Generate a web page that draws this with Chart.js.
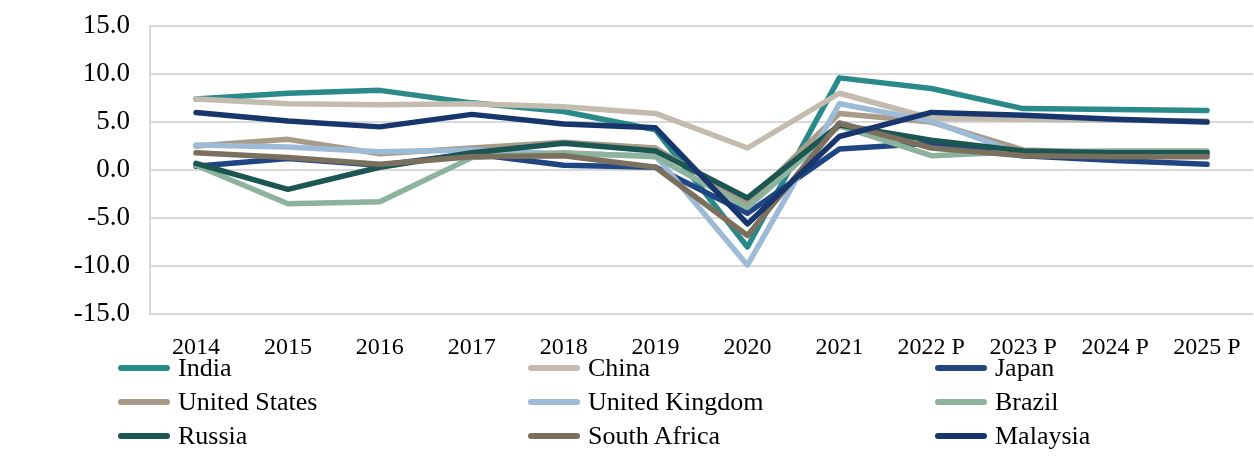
<!DOCTYPE html>
<html>
<head>
<meta charset="utf-8">
<script src="https://cdn.jsdelivr.net/npm/chart.js"></script>
<style>
  html, body { margin: 0; padding: 0; background: #fff; }
  #wrap { position: relative; width: 1254px; height: 459px; }
  #legend { position: absolute; left: 0; top: 351px; width: 1254px; font-family: "Liberation Serif", serif; font-size: 26px; color: #000; }
  .item { position: absolute; height: 34px; line-height: 34px; white-space: nowrap; }
  .swatch { position: absolute; left: 0; top: 14px; width: 52px; height: 6px; border-radius: 3px; }
  .item span { position: absolute; left: 60px; top: 0; }
</style>
</head>
<body>
<div id="wrap">
  <canvas id="myChart" width="1254" height="459"></canvas>
  <div id="legend"></div>
</div>
<script>
const years = ['2014', '2015', '2016', '2017', '2018', '2019', '2020', '2021', '2022 P', '2023 P', '2024 P', '2025 P'];

const countries = ['India', 'China', 'Japan', 'United States', 'United Kingdom', 'Brazil', 'Russia', 'South Africa', 'Malaysia'];
const colors = ['#2a8a8a', '#c3bbae', '#1f4584', '#a89b88', '#9dbbd6', '#8db39e', '#1b5652', '#7b705e', '#17366e'];

const india = [7.4, 8.0, 8.3, 7.0, 6.1, 4.2, -8.0, 9.6, 8.5, 6.4, 6.3, 6.2];
const china = [7.4, 6.9, 6.8, 6.9, 6.6, 5.9, 2.3, 8.0, 5.4, 5.3, 5.2, 5.1];
const japan = [0.4, 1.2, 0.5, 1.7, 0.5, 0.3, -4.5, 2.2, 2.8, 1.5, 1.0, 0.6];
const unitedStates = [2.5, 3.2, 1.7, 2.3, 2.9, 2.3, -3.4, 5.9, 5.0, 2.1, 1.8, 1.8];
const unitedKingdom = [2.6, 2.4, 1.9, 2.1, 1.7, 1.5, -9.9, 6.9, 5.1, 1.6, 1.5, 1.5];
const brazil = [0.5, -3.5, -3.3, 1.3, 1.8, 1.4, -3.9, 4.6, 1.5, 1.9, 2.0, 2.0];
const russia = [0.7, -2.0, 0.3, 1.8, 2.8, 2.0, -2.9, 4.7, 3.1, 2.0, 1.8, 1.8];
const southAfrica = [1.8, 1.3, 0.6, 1.4, 1.5, 0.3, -6.8, 4.9, 2.3, 1.5, 1.4, 1.4];
const malaysia = [6.0, 5.1, 4.5, 5.8, 4.8, 4.4, -5.6, 3.5, 6.0, 5.7, 5.3, 5.0];

const seriesValues = [india, china, japan, unitedStates, unitedKingdom, brazil, russia, southAfrica, malaysia];

const yTicks = [-15, -10, -5, 0, 5, 10, 15];

const xFont = { family: 'Liberation Serif', size: 24 };
const yFont = { family: 'Liberation Serif', size: 27 };

const datasets = countries.map((name, i) => ({
    label: name,
    data: seriesValues[i],
    borderColor: colors[i],
    backgroundColor: colors[i],
    borderWidth: 5.5,
    pointRadius: 0,
    tension: 0,
    borderCapStyle: 'round',
    borderJoinStyle: 'round',
    order: countries.length - i,
}));

new Chart(document.getElementById('myChart'), {
    type: 'line',
    data: { labels: years, datasets: datasets },
    options: {
        responsive: false,
        animation: false,
        layout: { padding: { left: 0, right: 1, top: 26, bottom: 78 } },
        plugins: {
            legend: { display: false },
            tooltip: { enabled: false },
        },
        scales: {
            x: {
                offset: true,
                grid: { display: false, drawTicks: false },
                border: { display: false },
                ticks: { color: '#000', font: xFont, padding: 19, maxRotation: 0, autoSkip: false },
                afterFit: (scale) => { scale.paddingLeft = 0; scale.paddingRight = 0; },
            },
            y: {
                min: yTicks[0],
                max: yTicks[yTicks.length - 1],
                afterFit: (scale) => { scale.width = 150; scale.paddingTop = 0; scale.paddingBottom = 0; },
                afterBuildTicks: (scale) => { scale.ticks = yTicks.map(v => ({ value: v })); },
                grid: { color: '#d9d9d9', lineWidth: 2, drawTicks: false },
                border: { display: true, color: '#d9d9d9', width: 2 },
                ticks: { color: '#000', font: yFont, padding: 20, callback: (v) => Number(v).toFixed(1) },
            },
        },
    },
});

// legend in three columns
const colX = [118, 528, 935];
const rowY = [0, 34, 68];
const legend = document.getElementById('legend');
countries.forEach((name, i) => {
    const item = document.createElement('div');
    item.className = 'item';
    item.style.left = colX[i % 3] + 'px';
    item.style.top = rowY[Math.floor(i / 3)] + 'px';
    item.innerHTML = '<div class="swatch" style="background:' + colors[i] + '"></div><span>' + name + '</span>';
    legend.appendChild(item);
});
</script>
</body>
</html>
